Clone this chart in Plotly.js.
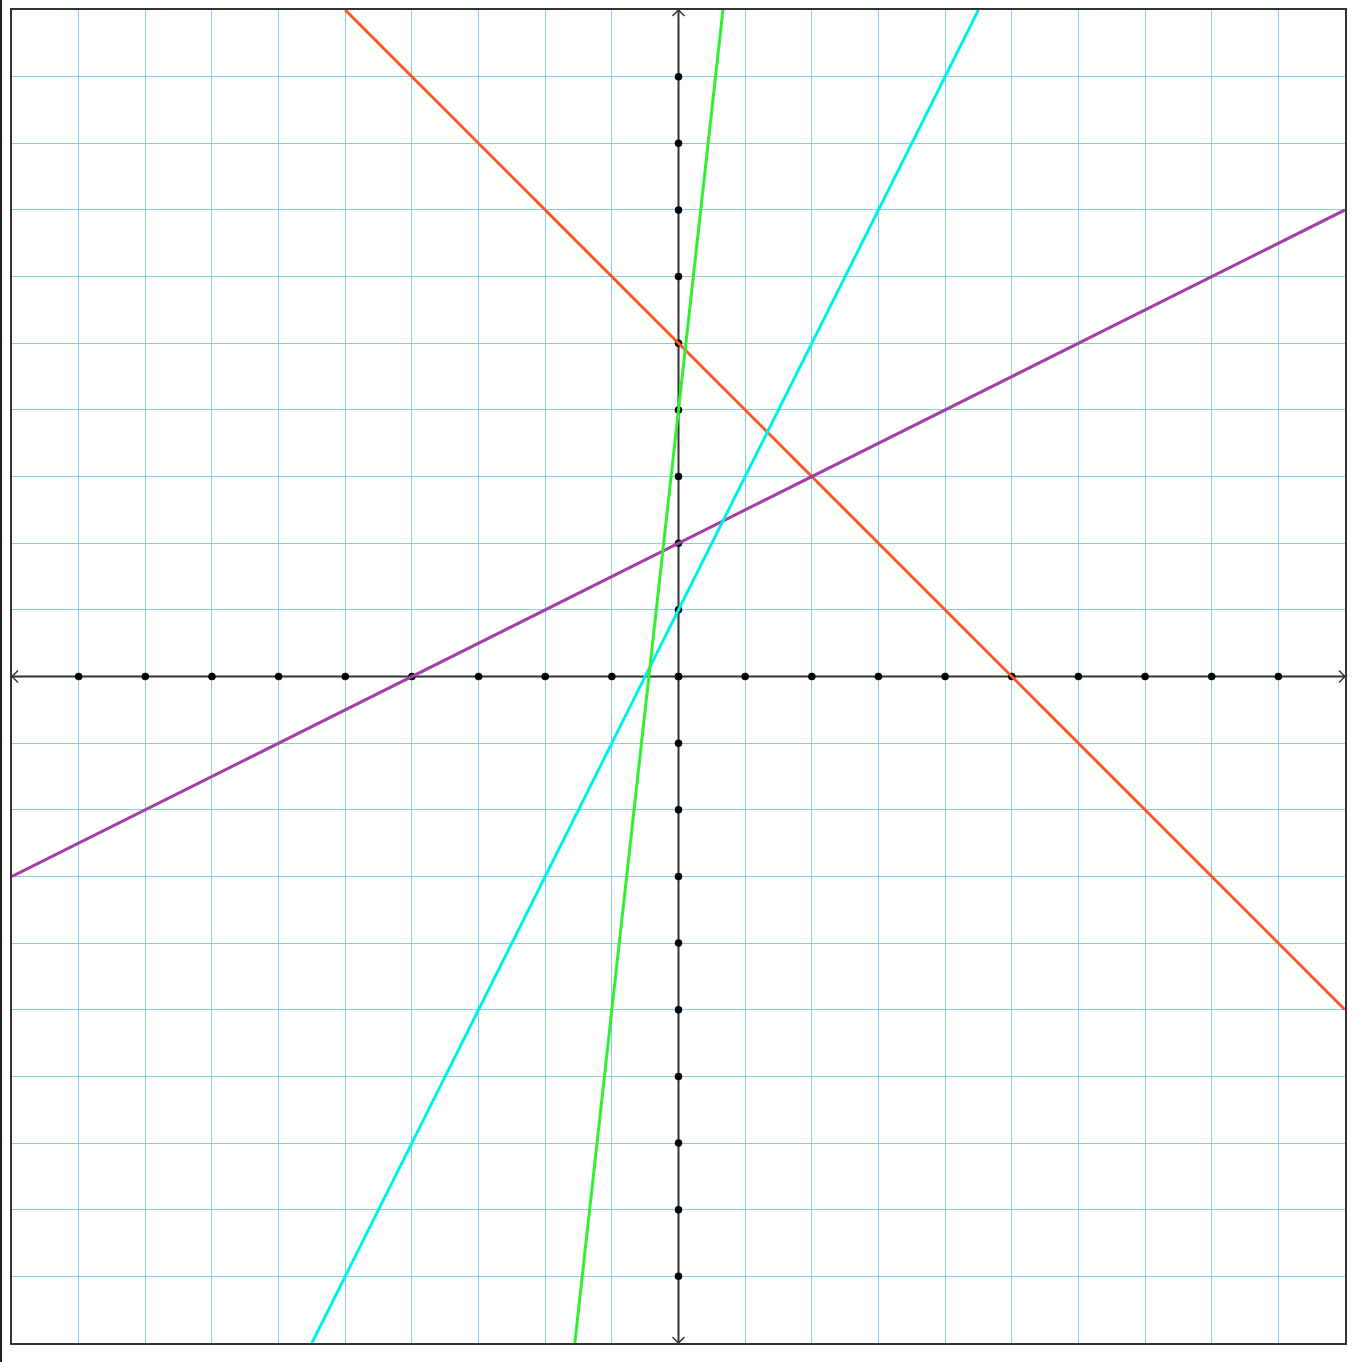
<!DOCTYPE html>
<html>
<head>
<meta charset="utf-8">
<script src="https://cdn.plot.ly/plotly-3.0.1.min.js"></script>
<style>
html,body{margin:0;padding:0;background:#fff;}
#chart{position:absolute;left:0;top:0;width:1358px;height:1362px;}
#edge{position:absolute;left:0;top:0;width:2px;height:1362px;background:#222;z-index:5;}
</style>
</head>
<body>
<div id="chart"></div>
<div id="edge"></div>
<script>
// Axis extent and integer tick points
const xRange = [-10, 10];
const yRange = [-10, 10];
const tickPoints = [-9,-8,-7,-6,-5,-4,-3,-2,-1,0,1,2,3,4,5,6,7,8,9];

// Lines y = m*x + b
const lineNames = ["y = -x + 5", "y = 0.5x + 2", "y = 2x + 1", "y = 9x + 4"];
const slopes = [-1, 0.5, 2, 9];
const intercepts = [5, 2, 1, 4];
const lineColors = ["#FF5722", "#A040A0", "#00F0F0", "#33EE33"];

const traces = [];
const axisColor = "#333333";

// x-axis and y-axis lines with dots
traces.push({x: xRange, y: [0, 0], mode: "lines", line: {color: axisColor, width: 2}, hoverinfo: "skip", showlegend: false});
traces.push({x: [0, 0], y: yRange, mode: "lines", line: {color: axisColor, width: 2}, hoverinfo: "skip", showlegend: false});
traces.push({x: tickPoints, y: tickPoints.map(() => 0), mode: "markers", marker: {color: "#000", size: 7.5}, hoverinfo: "skip", showlegend: false});
traces.push({x: tickPoints.map(() => 0), y: tickPoints, mode: "markers", marker: {color: "#000", size: 7.5}, hoverinfo: "skip", showlegend: false});

// arrow chevrons at the axis ends
const d = 0.09;
const chev = (xs, ys) => traces.push({x: xs, y: ys, mode: "lines", line: {color: axisColor, width: 1.5}, hoverinfo: "skip", showlegend: false});
chev([xRange[1]-d, xRange[1], xRange[1]-d], [d, 0, -d]);
chev([xRange[0]+d, xRange[0], xRange[0]+d], [d, 0, -d]);
chev([-d, 0, d], [yRange[1]-d, yRange[1], yRange[1]-d]);
chev([-d, 0, d], [yRange[0]+d, yRange[0], yRange[0]+d]);

// function lines, clipped to the visible square
for (let i = 0; i < slopes.length; i++) {
  const m = slopes[i], b = intercepts[i];
  let x0 = xRange[0], x1 = xRange[1];
  const xa = (yRange[0] - b) / m, xb = (yRange[1] - b) / m;
  const lo = Math.min(xa, xb), hi = Math.max(xa, xb);
  x0 = Math.max(x0, lo); x1 = Math.min(x1, hi);
  traces.push({
    x: [x0, x1], y: [m*x0 + b, m*x1 + b],
    mode: "lines", name: lineNames[i],
    line: {color: lineColors[i], width: 3},
    showlegend: false
  });
}

const axisCommon = {
  dtick: 1, tick0: 0,
  showgrid: true, gridcolor: "#87CEEB", gridwidth: 1,
  zeroline: false,
  showticklabels: false, ticks: "",
  showline: true, mirror: true, linecolor: axisColor, linewidth: 2,
  fixedrange: true
};

const layout = {
  width: 1358, height: 1362,
  margin: {l: 12, r: 13, t: 10, b: 19, pad: 0},
  paper_bgcolor: "#ffffff", plot_bgcolor: "#ffffff",
  xaxis: Object.assign({range: xRange}, axisCommon),
  yaxis: Object.assign({range: yRange}, axisCommon),
  showlegend: false
};

Plotly.newPlot("chart", traces, layout, {displayModeBar: false, staticPlot: true});
</script>
</body>
</html>
